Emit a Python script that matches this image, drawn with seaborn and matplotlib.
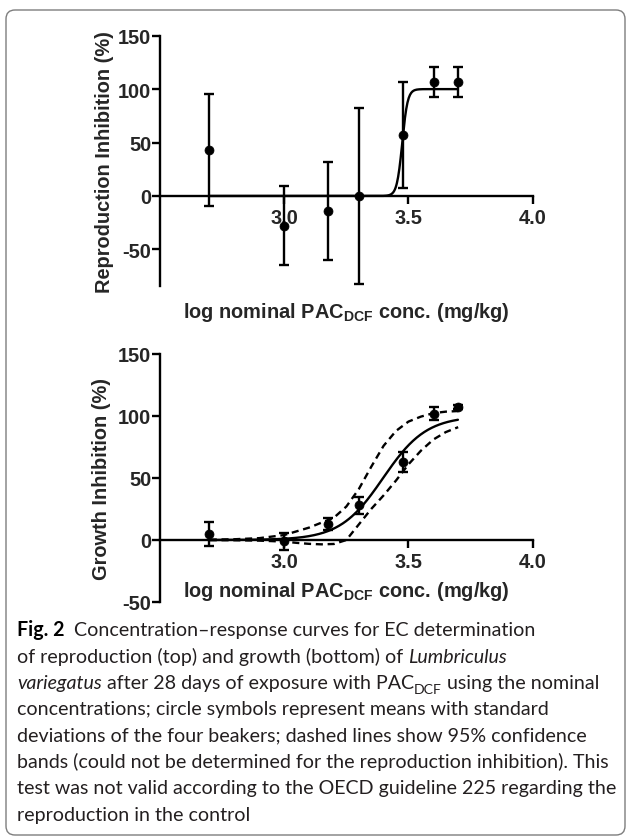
import numpy as np
import pandas as pd
import matplotlib
matplotlib.use("Agg")
import matplotlib.pyplot as plt
import matplotlib.transforms as mtransforms
from matplotlib.patches import FancyBboxPatch
import seaborn as sns

# ---- data -------------------------------------------------------------
# log10 of the nominal PAC_DCF concentrations (mg/kg)
log_conc = [2.699, 3.000, 3.176, 3.301, 3.477, 3.602, 3.699]

# reproduction inhibition (%), mean and SD of four beakers
repro_mean = [43, -28, -14, 0, 57, 107, 107]
repro_sd = [52, 37, 46, 82, 50, 14, 14]

# growth inhibition (%), mean and SD of four beakers
growth_mean = [5, -1, 13, 28, 63, 102, 107.5]
growth_sd = [9.5, 7, 5, 7, 8, 5.5, 1.5]

# four-parameter logistic fits: bottom, top, logEC50, Hill slope
repro_fit = [0, 100, 3.475, 40]
growth_fit = [0, 100, 3.398, 5.0]

# 95 % confidence band of the growth fit
band_x = [2.70, 2.80, 2.90, 3.00, 3.05, 3.10, 3.15, 3.20, 3.25,
          3.30, 3.35, 3.40, 3.45, 3.50, 3.55, 3.60, 3.65, 3.70]
band_upper = [0.3, 0.6, 1.5, 4, 7, 10, 14, 18, 27,
              41, 59, 76, 88, 95.5, 99.5, 102.3, 103.5, 104]
band_lower = [-0.1, -0.2, -0.5, -1.3, -2.3, -3.1, -3.5, -3.2, 0,
              12.5, 25, 36, 48, 61, 72, 81, 87, 91]

x_ticks = [3.0, 3.5, 4.0]
x_tick_labels = ["3.0", "3.5", "4.0"]
y_ticks = [-50, 0, 50, 100, 150]
y_tick_labels = ["-50", "0", "50", "100", "150"]

repro_ylabel = "Reproduction Inhibition (%)"
growth_ylabel = "Growth Inhibition (%)"
conc_xlabel = r"$\mathbf{log\ nominal\ PAC_{DCF}\ conc.\!\ (mg/kg)}$"

# ---- style ------------------------------------------------------------
sns.set_theme(style="ticks")
plt.rcParams["font.family"] = ["Liberation Sans", "DejaVu Sans"]
plt.rcParams["mathtext.fontset"] = "custom"
plt.rcParams["mathtext.rm"] = "Liberation Sans"
plt.rcParams["mathtext.bf"] = "Liberation Sans:bold"
plt.rcParams["mathtext.it"] = "Liberation Sans:italic"

W, H, DPI = 627, 837, 100
fig = plt.figure(figsize=(W / DPI, H / DPI), dpi=DPI)
fig.patch.set_facecolor("white")

FS = 14.4
LW = 1.7


def px_axes(left, top, right, bottom):
    return fig.add_axes([left / W, 1 - bottom / H, (right - left) / W, (bottom - top) / H])


def logistic(x, p):
    b, t, e, h = p
    return b + (t - b) / (1 + 10 ** ((e - x) * h))


def style_axes(ax, ylim, ylabel, ylab_x, xlab_y):
    ax.set_facecolor("white")
    ax.set_xlim(2.5, 4.0)
    ax.set_ylim(*ylim)
    for s in ("top", "right"):
        ax.spines[s].set_visible(False)
    ax.spines["bottom"].set_position(("data", 0))
    for s in ("left", "bottom"):
        ax.spines[s].set_linewidth(LW)
        ax.spines[s].set_color("black")
    ax.set_xticks(x_ticks, x_tick_labels, fontsize=FS, fontweight="bold")
    ax.set_yticks(y_ticks, y_tick_labels, fontsize=FS, fontweight="bold")
    ax.tick_params(axis="both", direction="out", length=5.8, width=LW, color="black")
    ax.tick_params(axis="x", pad=3)
    ax.tick_params(axis="y", pad=0.5)
    ax.set_ylabel(ylabel, fontsize=FS, fontweight="bold", va="center")
    ax.yaxis.set_label_coords(ylab_x, 0.5)
    ax.set_xlabel(conc_xlabel, fontsize=FS, va="center")
    ax.xaxis.set_label_coords(0.5, xlab_y)
    ax.grid(False)


def draw_points(ax, mean, sd):
    ax.errorbar(log_conc, mean, yerr=sd, fmt="none", ecolor="black",
                elinewidth=LW, capsize=3.8, capthick=LW, zorder=4)
    sns.scatterplot(x=log_conc, y=mean, ax=ax, color="black", s=42,
                    edgecolor="black", linewidth=0.5, zorder=5, legend=False)


# ---- top panel: reproduction -------------------------------------------
ax1 = px_axes(160, 36.7, 532.7, 286.7)
xs = np.linspace(log_conc[0], log_conc[-1], 400)
sns.lineplot(x=xs, y=logistic(xs, repro_fit), ax=ax1, color="black",
             linewidth=LW, estimator=None, zorder=3)
draw_points(ax1, repro_mean, repro_sd)
style_axes(ax1, (-84, 150), repro_ylabel, -0.150, -0.105)

# ---- bottom panel: growth ----------------------------------------------
ax2 = px_axes(160, 355, 532.7, 603)
sns.lineplot(x=xs, y=logistic(xs, growth_fit), ax=ax2, color="black",
             linewidth=LW, estimator=None, zorder=3)
for band in (band_upper, band_lower):
    sns.lineplot(x=band_x, y=band, ax=ax2, color="black", linewidth=LW,
                 linestyle=(0, (3.0, 2.0)), estimator=None, zorder=3)
draw_points(ax2, growth_mean, growth_sd)
style_axes(ax2, (-50, 150), growth_ylabel, -0.158, 0.046)

# ---- caption ------------------------------------------------------------
renderer = fig.canvas.get_renderer()
CAP_FONT = ["Lato", "DejaVu Sans"]
CAP_COLOR = "#231f20"
ident = mtransforms.IdentityTransform()


def measure(text, size, **kw):
    t = fig.text(0, 0, text, fontsize=size, family=CAP_FONT, transform=ident, **kw)
    w = t.get_window_extent(renderer).width
    t.remove()
    return w


widest = "bands (could not be determined for the reproduction inhibition). This"
cap_size = 10 * 594 / measure(widest, 10)

caption = [
    [("Fig. 2", {"weight": "bold", "color": "black"}),
     ("  Concentration\u2013response curves for EC determination", {})],
    [("of reproduction (top) and growth (bottom) of ", {}),
     ("Lumbriculus", {"style": "italic"})],
    [("variegatus", {"style": "italic"}),
     (" after 28 days of exposure with PAC", {}),
     ("DCF", {"sub": True}),
     (" using the nominal", {})],
    [("concentrations; circle symbols represent means with standard", {})],
    [("deviations of the four beakers; dashed lines show 95% confidence", {})],
    [("bands (could not be determined for the reproduction inhibition). This", {})],
    [("test was not valid according to the OECD guideline 225 regarding the", {})],
    [("reproduction in the control", {})],
]

x0 = 17
base0 = 636.5
step = 26.3
for i, segs in enumerate(caption):
    x = x0
    base = base0 + i * step
    for text, kw in segs:
        kw = dict(kw)
        sub = kw.pop("sub", False)
        color = kw.pop("color", CAP_COLOR)
        size = cap_size * (0.72 if sub else 1.0)
        y = H - base - (cap_size * 0.33 if sub else 0)
        t = fig.text(x, y, text, fontsize=size, family=CAP_FONT, color=color,
                     va="baseline", ha="left", transform=ident, **kw)
        x += t.get_window_extent(renderer).width

# rounded frame around the figure
frame = FancyBboxPatch((6, 1), 619, 825, boxstyle="round,pad=0,rounding_size=9",
                       transform=ident, facecolor="none", edgecolor="#7d7d7d",
                       linewidth=1.0)
fig.patches.append(frame)

fig.savefig("out.png", dpi=DPI, facecolor="white")
